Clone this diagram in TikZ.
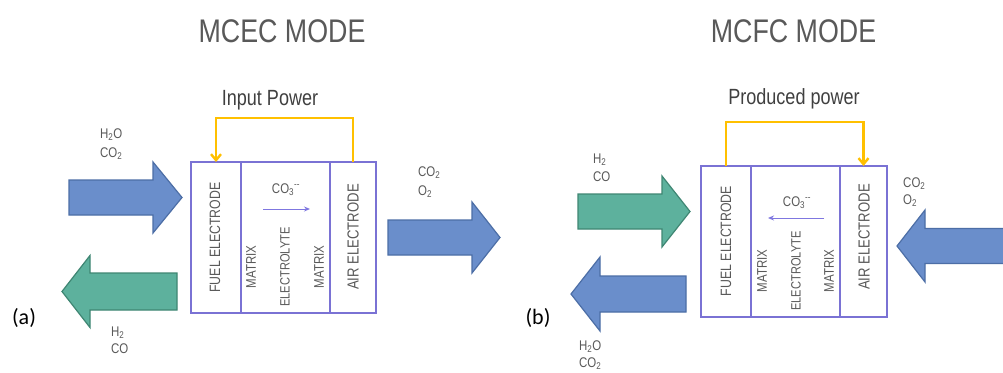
\documentclass[tikz,border=0pt]{standalone}
\usepackage{fontspec}
\newfontfamily\cond[FakeStretch=0.82]{Liberation Sans}
\newfontfamily\calib{Carlito}
\usetikzlibrary{arrows.meta}
\definecolor{txtgray}{HTML}{595959}
\definecolor{bluefill}{HTML}{6A8ECB}
\definecolor{blueedge}{HTML}{4C6EA6}
\definecolor{greenfill}{HTML}{5DB19D}
\definecolor{greenedge}{HTML}{3F8673}
\definecolor{boxpurple}{HTML}{7A72D4}
\definecolor{wireyellow}{HTML}{FFC000}
\definecolor{ionarrow}{HTML}{7F77E0}
\newcommand\myfs[1]{\fontsize{#1}{#1}\selectfont}
% style, tail x, head-base x, tip x, centre y, half shaft, half head
\newcommand\blockR[7]{\draw[#1] (#2,#5-#6) -- (#3,#5-#6) -- (#3,#5-#7) -- (#4,#5) -- (#3,#5+#7) -- (#3,#5+#6) -- (#2,#5+#6) -- cycle;}
\begin{document}
\begin{tikzpicture}[x=1pt,y=-1pt,
  lbl/.style={font=\cond\myfs{14}, text=txtgray, inner sep=0, anchor=base west},
  rot/.style={rotate=90, inner sep=0, text=txtgray},
  part/.style={draw=boxpurple, line width=1.8pt, minimum height=151pt, inner sep=0, outer sep=0, anchor=north west},
  wire/.style={draw=wireyellow, line width=2.4pt, -{Straight Barb[length=6pt,width=10pt]}},
  ion/.style={draw=ionarrow, line width=1pt, -{Stealth[length=6pt,width=5pt]}},
  blockblue/.style={fill=bluefill, draw=blueedge, line width=1.2pt},
  blockgreen/.style={fill=greenfill, draw=greenedge, line width=1.2pt},
  title/.style={font=\cond\myfs{32.7}, text=txtgray, anchor=base, inner sep=0},
  power/.style={font=\cond\myfs{22}, text=black!75, anchor=base, inner sep=0},
  panel/.style={font=\calib\myfs{22}, text=black, inner sep=0}]
\useasboundingbox (0,0) rectangle (1003,372);
\fill[white] (0,0) rectangle (1003,372);

% ================= (a) MCEC =================
\node[title] (titleA) at (282,42) {MCEC MODE};
\node[power] (pwrA) at (270,105) {Input Power};

\node[part, minimum width=50pt] (fuelA) at (191,162) {};
\node[part, minimum width=89pt] (elA) at (241,162) {};
\node[part, minimum width=46pt] (airA) at (330,162) {};

\draw[wire] (airA.north) -- ++(0,-44) -| (fuelA.north);

\node[rot, font=\cond\myfs{15}] (fuelTa) at (215,237.5) {FUEL ELECTRODE};
\node[rot, font=\cond\myfs{14}] (mat1a) at (251,267) {MATRIX};
\node[rot, font=\cond\myfs{13.5}] (elyta) at (285,267) {ELECTROLYTE};
\node[rot, font=\cond\myfs{14}] (mat2a) at (319,267) {MATRIX};
\node[rot, font=\cond\myfs{16}] (airTa) at (353,237) {AIR ELECTRODE};

\node[font=\cond\myfs{14}, text=txtgray, inner sep=0, anchor=base] (co3a) at (286,193) {CO\textsubscript{3}\textsuperscript{-{}-}};
\coordinate (ia1) at (263,209);
\coordinate (ia2) at (310,209);
\draw[ion] (ia1) -- (ia2);

\blockR{blockblue}{69}{153}{182}{197.5}{17.5}{35.5}
\blockR{blockgreen}{177}{90}{62}{291.5}{18.5}{36}
\blockR{blockblue}{388}{472}{500}{237.5}{17.5}{35.5}

\node[lbl] (a1) at (100,138) {H\textsubscript{2}O};
\node[lbl] (a2) at (100,157) {CO\textsubscript{2}};
\node[lbl] (a3) at (111,336) {H\textsubscript{2}};
\node[lbl] (a4) at (111,353) {CO};
\node[lbl] (a5) at (418,176) {CO\textsubscript{2}};
\node[lbl] (a6) at (418,195) {O\textsubscript{2}};

\node[panel] (la) at (24,318) {(a)};

% ================= (b) MCFC =================
\node[title] (titleB) at (793.5,42) {MCFC MODE};
\node[power] (pwrB) at (794,104) {Produced power};

\node[part, minimum width=50pt] (fuelB) at (701,166) {};
\node[part, minimum width=89pt] (elB) at (751,166) {};
\node[part, minimum width=47pt] (airB) at (840,166) {};

\draw[wire] (fuelB.north) -- ++(0,-44) -| (airB.north);

\node[rot, font=\cond\myfs{15}] (fuelTb) at (726,241) {FUEL ELECTRODE};
\node[rot, font=\cond\myfs{14}] (mat1b) at (762,271) {MATRIX};
\node[rot, font=\cond\myfs{13.5}] (elytb) at (796,271) {ELECTROLYTE};
\node[rot, font=\cond\myfs{14}] (mat2b) at (829,271) {MATRIX};
\node[rot, font=\cond\myfs{16}] (airTb) at (864,237) {AIR ELECTRODE};

\node[font=\cond\myfs{14}, text=txtgray, inner sep=0, anchor=base] (co3b) at (797,206) {CO\textsubscript{3}\textsuperscript{-{}-}};
\coordinate (ib1) at (824,218);
\coordinate (ib2) at (768,218);
\draw[ion] (ib1) -- (ib2);

\blockR{blockgreen}{578}{662}{690}{211.5}{17.5}{35.5}
\blockR{blockblue}{686}{600}{571}{294}{18}{37}
\blockR{blockblue}{1010}{925}{897}{246}{17.5}{36}

\node[lbl] (b1) at (593,163) {H\textsubscript{2}};
\node[lbl] (b2) at (593,181) {CO};
\node[lbl] (b3) at (579,350) {H\textsubscript{2}O};
\node[lbl] (b4) at (579,367) {CO\textsubscript{2}};
\node[lbl] (b5) at (903,187) {CO\textsubscript{2}};
\node[lbl] (b6) at (903,204) {O\textsubscript{2}};

\node[panel] (lb) at (538,318) {(b)};
\end{tikzpicture}
\end{document}
